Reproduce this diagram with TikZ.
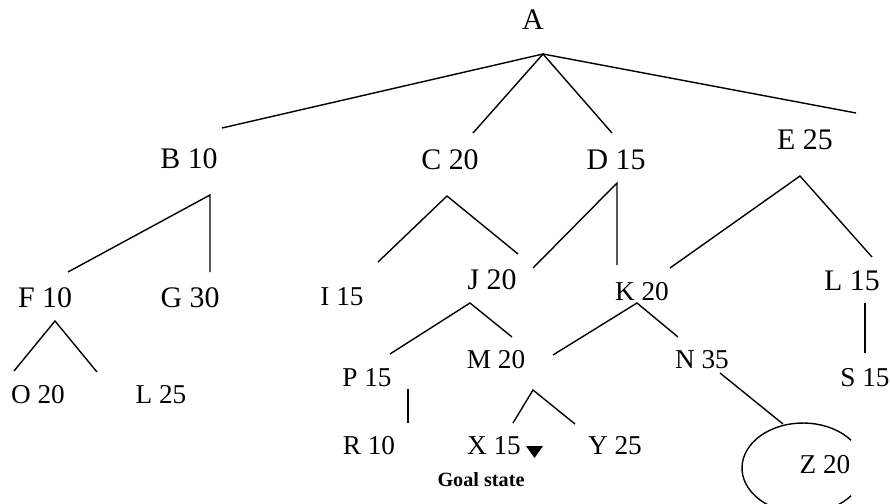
\documentclass[tikz,border=0pt]{standalone}
\usepackage{fontspec}
\setmainfont{Liberation Serif}
\usetikzlibrary{positioning, calc}
\begin{document}
\begin{tikzpicture}[x=0.02cm, y=-0.02cm,
        big/.style={inner sep=0pt, font=\fontsize{17}{19}\selectfont},
        small/.style={inner sep=0pt, font=\fontsize{15.5}{18}\selectfont},
        edge/.style={line width=0.8pt}
    ]
        \useasboundingbox (0,0) rectangle (890,504);

        \node[big] (A) at (533,20) {A};
        \node[big] (B) at (189,159) {B 10};
        \node[big] (C) at (450,160) {C 20};
        \node[big] (D) at (616,160) {D 15};
        \node[big] (E) at (805,140) {E 25};
        \node[big] (F) at (45,298) {F 10};
        \node[big] (G) at (190,298) {G 30};
        \node[small] (I) at (342,297) {I 15};
        \node[big] (J) at (492,280) {J 20};
        \node[small] (K) at (642,292) {K 20};
        \node[big] (L1) at (852,281) {L 15};
        \node[small] (O) at (38,395) {O 20};
        \node[small] (L2) at (161,395) {L 25};
        \node[small] (P) at (367,378) {P 15};
        \node[small] (M) at (496,360) {M 20};
        \node[small] (N) at (702,360) {N 35};
        \node[small] (S) at (865,378) {S 15};
        \node[small] (R) at (369,446) {R 10};
        \node[small] (X) at (494,446) {X 15};
        \node[small] (Y) at (615,446) {Y 25};
        \node[small] (Z) at (825,465) {Z 20};
        \node[inner sep=0pt, font=\fontsize{11.5}{13}\selectfont\bfseries] (GOAL) at (481,480) {Goal state};

        \coordinate (A-fork) at (543,54);
        \coordinate (A-b) at (222,128);
        \coordinate (A-c) at (473,133);
        \coordinate (A-d) at (612,133);
        \coordinate (A-e) at (856,113);
        \draw[edge] (A-b) -- (A-fork) -- (A-e);
        \draw[edge] (A-c) -- (A-fork) -- (A-d);

        \coordinate (B-fork) at (210,195);
        \coordinate (B-f) at (68,272);
        \coordinate (B-g) at (210,272);
        \draw[edge] (B-f) -- (B-fork) -- (B-g);

        \coordinate (C-fork) at (447,196);
        \coordinate (C-i) at (378,262);
        \coordinate (C-j) at (518,254);
        \draw[edge] (C-i) -- (C-fork) -- (C-j);

        \coordinate (D-fork) at (617,183);
        \coordinate (D-j) at (533,268);
        \coordinate (D-k) at (617,265);
        \draw[edge] (D-j) -- (D-fork) -- (D-k);

        \coordinate (E-fork) at (800,176);
        \coordinate (E-k) at (670,268);
        \coordinate (E-l) at (872,257);
        \draw[edge] (E-k) -- (E-fork) -- (E-l);

        \coordinate (F-fork) at (55,321);
        \coordinate (F-o) at (14,371);
        \coordinate (F-l) at (97,372);
        \draw[edge] (F-o) -- (F-fork) -- (F-l);

        \coordinate (J-fork) at (470,303);
        \coordinate (J-p) at (390,354);
        \coordinate (J-m) at (512,337);
        \draw[edge] (J-p) -- (J-fork) -- (J-m);

        \coordinate (K-fork) at (637,303);
        \coordinate (K-m) at (553,355);
        \coordinate (K-n) at (678,337);
        \draw[edge] (K-m) -- (K-fork) -- (K-n);

        \coordinate (L-top) at (865,303);
        \coordinate (L-s) at (865,353);
        \draw[edge] (L-top) -- (L-s);

        \coordinate (P-top) at (408,389);
        \coordinate (P-r) at (408,423);
        \draw[edge] (P-top) -- (P-r);

        \coordinate (M-fork) at (533,390);
        \coordinate (M-x) at (513,423);
        \coordinate (M-y) at (575,424);
        \draw[edge] (M-x) -- (M-fork) -- (M-y);

        \coordinate (N-top) at (720,373);
        \coordinate (N-z) at (783,424);
        \draw[edge] (N-top) -- (N-z);

        \coordinate (Z-mid) at (803,468);
        \draw[edge] ($(Z-mid)+(38:1.22cm and 0.9cm)$) arc[start angle=38, end angle=322, x radius=1.22cm, y radius=0.9cm];

        \fill (526,446) -- (543,446) -- (534.5,458) -- cycle;
    \end{tikzpicture}
\end{document}
